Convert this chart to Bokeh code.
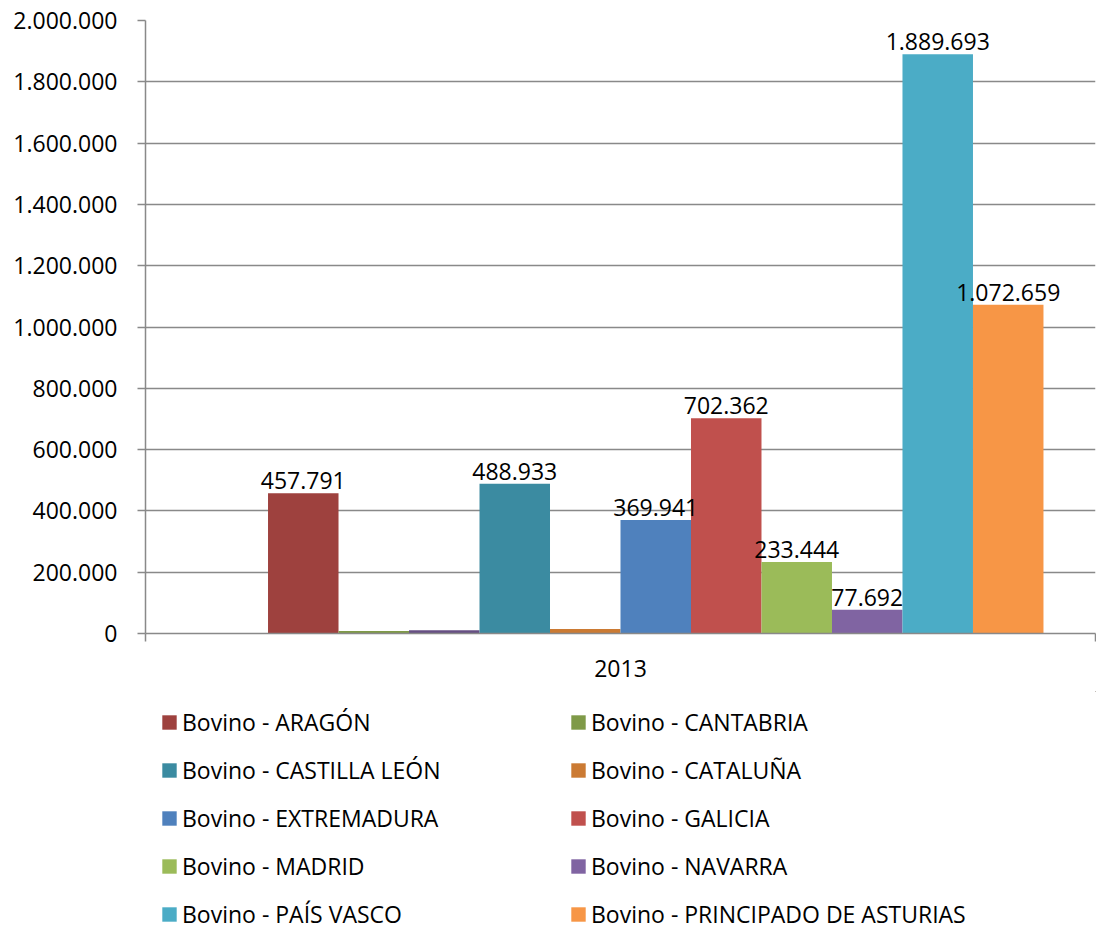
from bokeh.plotting import figure
from bokeh.layouts import column
from bokeh.models import ColumnDataSource, Legend, LegendItem, FixedTicker, Range1d
from bokeh.embed import file_html
from bokeh.resources import INLINE
from bokeh.core.properties import value

category = "2013"
series = [
    "Bovino - ARAGÓN",
    "Bovino - CANTABRIA",
    "",
    "Bovino - CASTILLA LEÓN",
    "Bovino - CATALUÑA",
    "Bovino - EXTREMADURA",
    "Bovino - GALICIA",
    "Bovino - MADRID",
    "Bovino - NAVARRA",
    "Bovino - PAÍS VASCO",
    "Bovino - PRINCIPADO DE ASTURIAS",
]
values = [457791, 8000, 11000, 488933, 15000, 369941, 702362, 233444, 77692, 1889693, 1072659]
colors = ["#9E413E", "#7F9A48", "#664F83", "#3B8BA1", "#CB7A33", "#4F81BD",
          "#C0504D", "#9BBB59", "#8064A2", "#4BACC6", "#F79646"]
show_label = [True, False, False, True, False, True, True, True, True, True, True]
y_ticks = list(range(0, 2000001, 200000))

FONT = "Open Sans"
GRID = "#898989"


def fmt(v):
    return f"{v:,}".replace(",", ".")


# one empty leading slot in the cluster
xs = [i + 1 for i in range(len(series))]
n_slots = len(series) + 1
pad = 0.738

data = dict(x=xs, top=values, color=colors, name=series,
            label=[fmt(v) if s else "" for v, s in zip(values, show_label)])
src = ColumnDataSource(data)

W = 1096
x0, x1 = -0.5 - pad, n_slots - 0.5 + pad
p = figure(width=W, height=690, output_backend="svg", toolbar_location=None,
           x_range=Range1d(x0, x1), y_range=Range1d(0, y_ticks[-1]),
           min_border_left=145, min_border_right=1, min_border_top=20, min_border_bottom=57)
p.outline_line_color = None

bars = p.vbar(x="x", top="top", width=1.0, color="color", line_color=None, source=src)
p.text(x="x", y="top", text="label", source=src, text_align="center", text_baseline="bottom",
       y_offset=-4, text_font=value(FONT), text_font_size="23px", text_color="#000000")

p.xgrid.visible = False
p.ygrid.grid_line_color = GRID
p.ygrid.grid_line_width = 1.5
p.ygrid.ticker = FixedTicker(ticks=y_ticks)

yax = p.yaxis[0]
yax.ticker = FixedTicker(ticks=y_ticks)
yax.major_label_overrides = {t: fmt(t) for t in y_ticks}
yax.major_label_text_font = FONT
yax.major_label_text_font_size = "23px"
yax.major_label_text_color = "#000000"
yax.major_label_standoff = 20
yax.major_tick_out = 8
yax.major_tick_in = 0
yax.minor_tick_out = 0
yax.minor_tick_in = 0
yax.axis_line_color = GRID
yax.axis_line_width = 1.5
yax.major_tick_line_color = GRID
yax.major_tick_line_width = 1.5

xax = p.xaxis[0]
xax.ticker = FixedTicker(ticks=[x0, x1])
xax.major_label_text_font_size = "0px"
xax.major_tick_out = 8
xax.major_tick_in = 0
xax.minor_tick_out = 0
xax.minor_tick_in = 0
xax.axis_line_color = GRID
xax.axis_line_width = 1.5
xax.major_tick_line_color = GRID
xax.major_tick_line_width = 1.5
xax.axis_label = category
xax.axis_label_text_font = FONT
xax.axis_label_text_font_size = "23px"
xax.axis_label_text_font_style = "normal"
xax.axis_label_text_color = "#000000"
xax.axis_label_standoff = 18

# legend panel (separate figure below the chart); proxy bars sit outside its view
lp = figure(width=W, height=241, output_backend="svg", toolbar_location=None,
            x_axis_type=None, y_axis_type=None, x_range=Range1d(-100, -99), y_range=Range1d(-10, -9),
            min_border_left=145, min_border_top=1, min_border_right=1, min_border_bottom=0)
lp.outline_line_color = None
lp.grid.visible = False
proxy = lp.vbar(x="x", top="top", width=1.0, color="color", line_color=None,
                source=ColumnDataSource(data))

items = [LegendItem(label=s, renderers=[proxy], index=i) for i, s in enumerate(series) if s]
legend = Legend(items=items, orientation="horizontal", ncols=2, location="top_left",
                glyph_width=18, glyph_height=18, label_standoff=4, spacing=16,
                label_width=371, label_height=20, padding=0, margin=15,
                label_text_font=FONT, label_text_font_size="23px", label_text_color="#000000",
                border_line_color=None, background_fill_alpha=0)
lp.add_layout(legend, "center")

layout = column(p, lp, spacing=0)
open("out.html", "w").write(file_html(layout, INLINE))
